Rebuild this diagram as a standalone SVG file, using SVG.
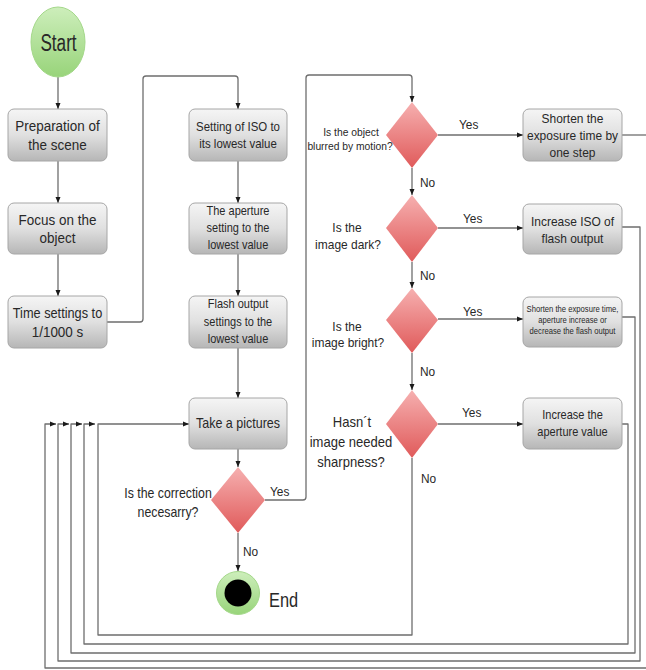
<svg xmlns="http://www.w3.org/2000/svg" width="646" height="670" viewBox="0 0 646 670">
<defs>
<linearGradient id="gBox" x1="0" y1="0" x2="0" y2="1">
<stop offset="0" stop-color="#f5f5f5"/><stop offset="0.5" stop-color="#e0e0e0"/><stop offset="1" stop-color="#b6b6b6"/>
</linearGradient>
<linearGradient id="gDia" x1="0" y1="0" x2="0" y2="1">
<stop offset="0" stop-color="#f6b0b0"/><stop offset="1" stop-color="#e05a5a"/>
</linearGradient>
<linearGradient id="gGreen" x1="0" y1="0" x2="0" y2="1">
<stop offset="0" stop-color="#cdeebb"/><stop offset="1" stop-color="#98d47a"/>
</linearGradient>
<marker id="arr" markerWidth="6" markerHeight="6" refX="6" refY="3" orient="auto" markerUnits="userSpaceOnUse">
<path d="M0,0.5 L6,3 L0,5.5 z" fill="#1a1a1a"/>
</marker>
<style>
.box{fill:url(#gBox);stroke:#a6a6a6;stroke-width:1}
.dia{fill:url(#gDia);stroke:none}
.t{font-family:"Liberation Sans",Arial,sans-serif;fill:#282828;text-anchor:middle}
.lbl{font-family:"Liberation Sans",Arial,sans-serif;fill:#282828;font-size:13.5px}
.c{fill:none;stroke:#6e6e6e;stroke-width:1.3;stroke-linejoin:round}
.ca{fill:none;stroke:#6e6e6e;stroke-width:1.3;stroke-linejoin:round;marker-end:url(#arr)}
</style>
</defs>

<g id="connectors">
<path class="ca" d="M58,77 V109"/>
<path class="ca" d="M58,161 V203"/>
<path class="ca" d="M58,254 V296"/>
<path class="ca" d="M107,322 H140 Q143,322 143,319 V79 Q143,76 146,76 H235 Q238,76 238,79 V109"/>
<path class="ca" d="M238,161 V203"/>
<path class="ca" d="M238,254 V296"/>
<path class="ca" d="M238,348 V398"/>
<path class="ca" d="M238,449 V467"/>
<path class="ca" d="M238,533 V571"/>
<path class="ca" d="M265,500 H303 Q306,500 306,497 V78 Q306,75 309,75 H409 Q412,75 412,78 V102"/>
<path class="ca" d="M412,168 V195"/>
<path class="ca" d="M412,262 V288"/>
<path class="ca" d="M412,353 V390"/>
<path class="ca" d="M438,135 H523"/>
<path class="ca" d="M438,228 H523"/>
<path class="ca" d="M438,319 H523"/>
<path class="ca" d="M438,424 H523"/>
<path class="c" d="M622,135 H646"/>
<path class="ca" d="M646,668 H45 V424 H56"/>
<path class="ca" d="M622,227 H640 V661 H58 V424 H69"/>
<path class="ca" d="M622,317 H635 V653 H71 V424 H82"/>
<path class="ca" d="M622,424 H628 V644 H84 V424 H95"/>
<path class="ca" d="M412,458 V635 H98 V424 H189"/>
</g>

<g id="start">
<ellipse cx="58" cy="42" rx="27" ry="35" fill="url(#gGreen)" stroke="#a4d88a" stroke-width="1"/>
<text class="t" transform="translate(58.5,0) scale(0.73,1)" x="0" y="51" font-size="23.5">Start</text>
</g>

<g id="prep">
<rect class="box" x="8" y="109" width="99" height="52" rx="6"/>
<text class="t" transform="translate(57.5,0) scale(0.88,1)" x="0" y="131" font-size="15.3">Preparation of</text>
<text class="t" transform="translate(57.5,0) scale(0.88,1)" x="0" y="150" font-size="15.3">the scene</text>
</g>
<g id="focus">
<rect class="box" x="8" y="203" width="99" height="51" rx="6"/>
<text class="t" transform="translate(57.5,0) scale(0.88,1)" x="0" y="225" font-size="15.3">Focus on the</text>
<text class="t" transform="translate(57.5,0) scale(0.88,1)" x="0" y="243" font-size="15.3">object</text>
</g>
<g id="time">
<rect class="box" x="8" y="296" width="99" height="52" rx="6"/>
<text class="t" transform="translate(57.5,0) scale(0.88,1)" x="0" y="318" font-size="14.5">Time settings to</text>
<text class="t" transform="translate(57.5,0) scale(0.88,1)" x="0" y="337" font-size="15.3">1/1000 s</text>
</g>

<g id="iso">
<rect class="box" x="189" y="109" width="98" height="52" rx="6"/>
<text class="t" transform="translate(238,0) scale(0.88,1)" x="0" y="131" font-size="13">Setting of ISO to</text>
<text class="t" transform="translate(238,0) scale(0.88,1)" x="0" y="148" font-size="13">its lowest value</text>
</g>
<g id="aperture">
<rect class="box" x="189" y="203" width="98" height="51" rx="6"/>
<text class="t" transform="translate(238,0) scale(0.88,1)" x="0" y="215" font-size="12.5">The aperture</text>
<text class="t" transform="translate(238,0) scale(0.88,1)" x="0" y="232" font-size="12.5">setting to the</text>
<text class="t" transform="translate(238,0) scale(0.88,1)" x="0" y="249" font-size="12.5">lowest value</text>
</g>
<g id="flash">
<rect class="box" x="189" y="296" width="98" height="52" rx="6"/>
<text class="t" transform="translate(238,0) scale(0.88,1)" x="0" y="308" font-size="12.5">Flash output</text>
<text class="t" transform="translate(238,0) scale(0.88,1)" x="0" y="326" font-size="12.5">settings to the</text>
<text class="t" transform="translate(238,0) scale(0.88,1)" x="0" y="343" font-size="12.5">lowest value</text>
</g>
<g id="take">
<rect class="box" x="189" y="398" width="98" height="51" rx="6"/>
<text class="t" transform="translate(238,0) scale(0.88,1)" x="0" y="428" font-size="14.2">Take a pictures</text>
</g>

<g id="dCorrection">
<path class="dia" d="M238,467 L265,500 L238,533 L211,500 Z"/>
<text class="t" transform="translate(168,0) scale(0.88,1)" x="0" y="498" font-size="14">Is the correction</text>
<text class="t" transform="translate(168,0) scale(0.88,1)" x="0" y="517" font-size="14">necesarry?</text>
<text class="lbl" transform="translate(270,0) scale(0.88,1)" x="0" y="496">Yes</text>
<text class="lbl" transform="translate(243,0) scale(0.88,1)" x="0" y="556">No</text>
</g>

<g id="end">
<circle cx="238" cy="593" r="21.5" fill="url(#gGreen)" stroke="#a4d88a" stroke-width="1"/>
<circle cx="238" cy="593" r="13.5" fill="#000"/>
<text transform="translate(269,0) scale(0.82,1)" x="0" y="607" font-family="Liberation Sans,Arial,sans-serif" font-size="20" fill="#282828">End</text>
</g>

<g id="dBlur">
<path class="dia" d="M412,102 L438,135 L412,168 L386,135 Z"/>
<text class="t" transform="translate(351,0) scale(0.88,1)" x="0" y="136" font-size="11.7">Is the object</text>
<text class="t" transform="translate(350,0) scale(0.88,1)" x="0" y="150" font-size="11.7">blurred by motion?</text>
<text class="lbl" transform="translate(459,0) scale(0.88,1)" x="0" y="129">Yes</text>
<text class="lbl" transform="translate(420,0) scale(0.88,1)" x="0" y="187">No</text>
</g>
<g id="dDark">
<path class="dia" d="M412,195 L438,228 L412,262 L386,228 Z"/>
<text class="t" transform="translate(347,0) scale(0.88,1)" x="0" y="232" font-size="13.6">Is the</text>
<text class="t" transform="translate(348,0) scale(0.88,1)" x="0" y="249" font-size="13.6">image dark?</text>
<text class="lbl" transform="translate(463,0) scale(0.88,1)" x="0" y="223">Yes</text>
<text class="lbl" transform="translate(420,0) scale(0.88,1)" x="0" y="280">No</text>
</g>
<g id="dBright">
<path class="dia" d="M412,288 L438,320 L412,353 L386,320 Z"/>
<text class="t" transform="translate(347,0) scale(0.88,1)" x="0" y="331" font-size="13.6">Is the</text>
<text class="t" transform="translate(348,0) scale(0.88,1)" x="0" y="347" font-size="13.6">image bright?</text>
<text class="lbl" transform="translate(463,0) scale(0.88,1)" x="0" y="316">Yes</text>
<text class="lbl" transform="translate(420,0) scale(0.88,1)" x="0" y="376">No</text>
</g>
<g id="dSharp">
<path class="dia" d="M412,390 L438,424 L412,458 L386,424 Z"/>
<text class="t" transform="translate(352,0) scale(0.88,1)" x="0" y="427" font-size="14.8">Hasn´t</text>
<text class="t" transform="translate(351,0) scale(0.88,1)" x="0" y="447" font-size="14.8">image needed</text>
<text class="t" transform="translate(351,0) scale(0.88,1)" x="0" y="467" font-size="14.8">sharpness?</text>
<text class="lbl" transform="translate(462,0) scale(0.88,1)" x="0" y="417">Yes</text>
<text class="lbl" transform="translate(421,0) scale(0.88,1)" x="0" y="483">No</text>
</g>

<g id="shorten">
<rect class="box" x="523" y="109" width="99" height="52" rx="6"/>
<text class="t" transform="translate(572.5,0) scale(0.88,1)" x="0" y="123" font-size="13.6">Shorten the</text>
<text class="t" transform="translate(572.5,0) scale(0.88,1)" x="0" y="140" font-size="13.6">exposure time by</text>
<text class="t" transform="translate(572.5,0) scale(0.88,1)" x="0" y="157" font-size="13.6">one step</text>
</g>
<g id="increaseIso">
<rect class="box" x="523" y="204" width="99" height="50" rx="6"/>
<text class="t" transform="translate(572.5,0) scale(0.88,1)" x="0" y="226" font-size="13.6">Increase ISO of</text>
<text class="t" transform="translate(572.5,0) scale(0.88,1)" x="0" y="243" font-size="13.6">flash output</text>
</g>
<g id="shortenAperture">
<rect class="box" x="523" y="297" width="99" height="50" rx="6"/>
<text class="t" transform="translate(572.5,0) scale(0.88,1)" x="0" y="312" font-size="8.7">Shorten the exposure time,</text>
<text class="t" transform="translate(572.5,0) scale(0.88,1)" x="0" y="323" font-size="8.7">aperture increase or</text>
<text class="t" transform="translate(572.5,0) scale(0.88,1)" x="0" y="334" font-size="8.7">decrease the flash output</text>
</g>
<g id="increaseAperture">
<rect class="box" x="523" y="398" width="99" height="51" rx="6"/>
<text class="t" transform="translate(572.5,0) scale(0.88,1)" x="0" y="419" font-size="12.5">Increase the</text>
<text class="t" transform="translate(572.5,0) scale(0.88,1)" x="0" y="436" font-size="12.5">aperture value</text>
</g>
</svg>
